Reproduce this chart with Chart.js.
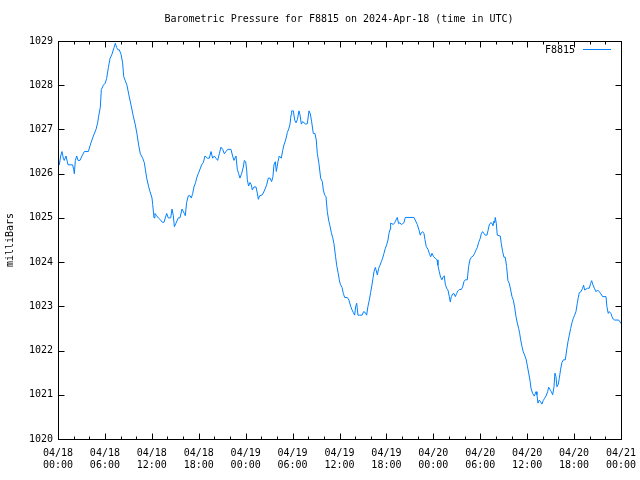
<!DOCTYPE html>
<html>
<head>
<meta charset="utf-8">
<script src="https://cdn.jsdelivr.net/npm/chart.js@4"></script>
<style>
  html, body { margin: 0; padding: 0; background: #fff; }
  #wrap { width: 640px; height: 480px; }
</style>
</head>
<body>
<div id="wrap"><canvas id="chart" width="640" height="480"></canvas></div>
<script>
'use strict';

/* ── DATA ─────────────────────────── */
const chartTitle = 'Barometric Pressure for F8815 on 2024-Apr-18 (time in UTC)';
const seriesName = 'F8815';

// hours since 04/18 00:00 UTC
const hours = [
  0.08, 0.17, 0.34, 0.51, 0.68, 0.8, 1.02, 1.28, 1.87, 2.0, 2.09, 2.22, 2.39, 2.56, 2.81, 3.07,
  3.37, 3.88, 4.22, 4.52, 4.86, 5.07, 5.2, 5.41, 5.54, 5.8, 6.05, 6.22, 6.44, 6.65, 6.9, 7.16,
  7.33, 7.5, 7.67, 7.84, 8.06, 8.27, 8.4, 8.61, 8.82, 9.04, 9.34, 9.63, 9.89, 10.1, 10.31, 10.53,
  10.83, 11.04, 11.17, 11.34, 11.6, 11.76, 12.02, 12.11, 12.28, 12.4, 12.62, 12.83, 13.13, 13.34, 13.55, 13.72,
  13.9, 14.1, 14.41, 14.58, 14.75, 14.88, 15.09, 15.39, 15.6, 15.86, 16.15, 16.28, 16.45, 16.67, 16.88, 17.05,
  17.22, 17.39, 17.6, 17.73, 17.94, 18.16, 18.37, 18.58, 18.8, 19.1, 19.35, 19.57, 19.78, 19.99, 20.2, 20.42,
  20.63, 20.84, 21.06, 21.27, 21.48, 21.7, 22.12, 22.33, 22.5, 22.76, 22.93, 23.1, 23.27, 23.48, 23.7, 23.83,
  24.0, 24.13, 24.21, 24.38, 24.55, 24.72, 24.85, 25.06, 25.32, 25.49, 25.62, 25.79, 26.13, 26.43, 26.69, 26.9,
  27.11, 27.32, 27.49, 27.62, 27.79, 27.92, 28.13, 28.3, 28.56, 28.73, 28.9, 29.11, 29.33, 29.54, 29.67, 29.8,
  29.88, 30.1, 30.27, 30.44, 30.61, 30.82, 30.95, 31.12, 31.29, 31.46, 31.67, 31.88, 32.1, 32.27, 32.44, 32.65,
  32.86, 33.03, 33.16, 33.37, 33.59, 33.8, 33.93, 34.1, 34.27, 34.44, 34.61, 34.78, 34.95, 35.12, 35.29, 35.5,
  35.64, 35.81, 35.98, 36.1, 36.32, 36.49, 36.66, 37.0, 37.21, 37.43, 37.6, 37.77, 37.94, 38.06, 38.2, 38.36,
  38.58, 38.88, 39.09, 39.3, 39.47, 39.64, 39.81, 39.98, 40.15, 40.28, 40.41, 40.58, 40.71, 40.84, 41.01, 41.18,
  41.35, 41.52, 41.69, 41.86, 42.03, 42.2, 42.33, 42.46, 42.54, 42.71, 42.88, 43.05, 43.22, 43.39, 43.56, 43.73,
  43.9, 44.08, 44.24, 44.41, 45.52, 45.74, 45.95, 46.16, 46.33, 46.46, 46.63, 46.8, 46.93, 47.1, 47.31, 47.48,
  47.66, 47.83, 48.04, 48.25, 48.47, 48.59, 48.76, 48.93, 49.1, 49.27, 49.4, 49.53, 49.7, 49.87, 50.04, 50.17,
  50.3, 50.47, 50.64, 50.81, 50.98, 51.15, 51.32, 51.57, 51.75, 51.92, 52.08, 52.34, 52.51, 52.68, 52.85, 53.11,
  53.28, 53.45, 53.62, 53.79, 54.0, 54.13, 54.3, 54.47, 54.64, 54.86, 54.99, 55.15, 55.33, 55.5, 55.63, 55.75,
  55.84, 55.92, 56.05, 56.18, 56.56, 56.69, 56.86, 57.03, 57.2, 57.37, 57.54, 57.71, 57.89, 58.06, 58.23, 58.4,
  58.57, 58.74, 58.91, 59.04, 59.17, 59.34, 59.5, 59.67, 59.85, 60.01, 60.19, 60.36, 60.49, 60.7, 60.91, 61.13,
  61.25, 61.38, 61.55, 61.72, 61.89, 62.06, 62.23, 62.4, 62.62, 62.75, 62.92, 63.09, 63.26, 63.43, 63.55, 63.68,
  63.81, 63.98, 64.11, 64.28, 64.45, 64.62, 64.88, 65.05, 65.22, 65.39, 65.56, 65.73, 65.9, 66.07, 66.24, 66.41,
  66.54, 66.67, 66.88, 67.09, 67.22, 67.35, 67.52, 67.73, 67.95, 68.12, 68.25, 68.38, 68.59, 68.8, 69.01, 69.23,
  69.44, 69.65, 70.08, 70.2, 70.37, 70.5, 70.71, 70.84, 71.01, 71.19, 71.7, 71.87, 72.0,
];

// milliBars
const pressure = [
  1026.3, 1026.2, 1026.4, 1026.5, 1026.35, 1026.3, 1026.4, 1026.2, 1026.2, 1026.1, 1026.0, 1026.3, 1026.4, 1026.3, 1026.3, 1026.4,
  1026.5, 1026.5, 1026.7, 1026.85, 1027.0, 1027.15, 1027.3, 1027.5, 1027.9, 1028.0, 1028.05, 1028.15, 1028.4, 1028.6, 1028.7, 1028.85,
  1028.95, 1028.85, 1028.8, 1028.8, 1028.7, 1028.5, 1028.2, 1028.1, 1028.0, 1027.8, 1027.55, 1027.3, 1027.1, 1026.9, 1026.65, 1026.45,
  1026.35, 1026.25, 1026.1, 1025.9, 1025.7, 1025.6, 1025.45, 1025.3, 1025.0, 1025.1, 1025.05, 1025.0, 1024.95, 1024.9, 1024.9, 1025.0,
  1025.1, 1025.0, 1025.0, 1025.2, 1025.05, 1024.8, 1024.88, 1025.0, 1025.0, 1025.2, 1025.1, 1025.05, 1025.35, 1025.5, 1025.5, 1025.45,
  1025.55, 1025.7, 1025.8, 1025.9, 1026.0, 1026.1, 1026.2, 1026.25, 1026.4, 1026.35, 1026.35, 1026.5, 1026.35, 1026.4, 1026.35, 1026.3,
  1026.45, 1026.6, 1026.55, 1026.45, 1026.5, 1026.55, 1026.55, 1026.4, 1026.3, 1026.4, 1026.1, 1026.0, 1025.9, 1026.0, 1026.15, 1026.3,
  1026.27, 1026.08, 1025.86, 1025.72, 1025.8, 1025.75, 1025.63, 1025.7, 1025.7, 1025.56, 1025.42, 1025.5, 1025.52, 1025.63, 1025.75, 1025.9,
  1025.9, 1025.82, 1025.94, 1026.2, 1026.27, 1026.05, 1026.27, 1026.4, 1026.35, 1026.52, 1026.65, 1026.76, 1026.93, 1027.03, 1027.12, 1027.33,
  1027.42, 1027.42, 1027.21, 1027.15, 1027.22, 1027.42, 1027.33, 1027.12, 1027.18, 1027.15, 1027.12, 1027.13, 1027.42, 1027.35, 1027.17, 1026.91,
  1026.91, 1026.76, 1026.46, 1026.23, 1025.9, 1025.82, 1025.63, 1025.52, 1025.48, 1025.14, 1024.95, 1024.82, 1024.67, 1024.56, 1024.42, 1024.12,
  1023.93, 1023.77, 1023.6, 1023.5, 1023.43, 1023.29, 1023.2, 1023.2, 1023.14, 1023.0, 1022.92, 1022.86, 1022.8, 1022.99, 1023.07, 1022.8,
  1022.8, 1022.8, 1022.88, 1022.86, 1022.8, 1023.0, 1023.14, 1023.31, 1023.48, 1023.63, 1023.78, 1023.88, 1023.8, 1023.71, 1023.86, 1023.93,
  1024.01, 1024.09, 1024.2, 1024.31, 1024.39, 1024.5, 1024.65, 1024.74, 1024.88, 1024.87, 1024.85, 1024.89, 1024.95, 1025.01, 1024.87, 1024.89,
  1024.85, 1024.87, 1024.89, 1025.01, 1025.01, 1024.93, 1024.85, 1024.73, 1024.61, 1024.66, 1024.69, 1024.65, 1024.51, 1024.35, 1024.29, 1024.2,
  1024.12, 1024.2, 1024.12, 1024.09, 1024.05, 1023.93, 1023.78, 1023.66, 1023.6, 1023.67, 1023.69, 1023.5, 1023.41, 1023.37, 1023.22, 1023.1,
  1023.22, 1023.28, 1023.29, 1023.22, 1023.29, 1023.35, 1023.38, 1023.38, 1023.44, 1023.56, 1023.6, 1023.6, 1023.9, 1024.05, 1024.11, 1024.14,
  1024.2, 1024.27, 1024.33, 1024.44, 1024.54, 1024.64, 1024.69, 1024.65, 1024.61, 1024.61, 1024.71, 1024.84, 1024.89, 1024.88, 1024.82, 1024.93,
  1024.89, 1025.01, 1024.88, 1024.61, 1024.59, 1024.42, 1024.24, 1024.11, 1024.11, 1023.9, 1023.58, 1023.52, 1023.37, 1023.22, 1023.14, 1022.98,
  1022.77, 1022.62, 1022.5, 1022.39, 1022.24, 1022.09, 1021.97, 1021.9, 1021.81, 1021.67, 1021.49, 1021.33, 1021.15, 1021.03, 1020.97, 1021.07,
  1021.0, 1020.81, 1020.88, 1020.84, 1020.79, 1020.87, 1020.92, 1020.97, 1021.07, 1021.17, 1021.12, 1021.07, 1021.0, 1021.18, 1021.49, 1021.41,
  1021.18, 1021.24, 1021.37, 1021.58, 1021.73, 1021.79, 1021.79, 1022.01, 1022.2, 1022.35, 1022.5, 1022.63, 1022.73, 1022.8, 1022.88, 1023.07,
  1023.2, 1023.31, 1023.33, 1023.41, 1023.48, 1023.37, 1023.39, 1023.41, 1023.41, 1023.52, 1023.58, 1023.5, 1023.41, 1023.33, 1023.37, 1023.33,
  1023.28, 1023.22, 1023.22, 1022.99, 1022.84, 1022.88, 1022.84, 1022.77, 1022.71, 1022.69, 1022.69, 1022.65, 1022.61,
];

// x axis ticks every 6 hours
const tickDates = ['04/18', '04/18', '04/18', '04/18', '04/19', '04/19', '04/19', '04/19', '04/20', '04/20', '04/20', '04/20', '04/21'];
const tickTimes = ['00:00', '06:00', '12:00', '18:00', '00:00', '06:00', '12:00', '18:00', '00:00', '06:00', '12:00', '18:00', '00:00'];
const yMin = 1020;
const yMax = 1029;

/* ── STYLE ─────────────────────────── */
const mono = 'DejaVu Sans Mono';
const lineColor = '#0080ff';

// gnuplot-ish frame: box, inward ticks on all sides, title, key
const gnuFrame = {
  id: 'gnuFrame',
  afterDraw(chart) {
    const { ctx, chartArea: a, scales: { x, y } } = chart;
    const L = Math.round(a.left) + 0.5, R = Math.round(a.right) + 0.5;
    const T = Math.round(a.top) + 0.5, B = Math.round(a.bottom) + 0.5;
    ctx.save();
    ctx.strokeStyle = '#000';
    ctx.lineWidth = 1;
    ctx.strokeRect(L, T, R - L, B - T);

    ctx.beginPath();
    for (let h = 0; h <= 72; h += 2) {
      const px = Math.round(x.getPixelForValue(h)) + 0.5;
      const len = h % 6 === 0 ? 6 : 3;
      ctx.moveTo(px, B); ctx.lineTo(px, B - len);
      ctx.moveTo(px, T); ctx.lineTo(px, T + len);
    }
    for (let v = yMin; v <= yMax; v++) {
      const py = Math.round(y.getPixelForValue(v)) + 0.5;
      ctx.moveTo(L, py); ctx.lineTo(L + 6, py);
      ctx.moveTo(R, py); ctx.lineTo(R - 6, py);
    }
    ctx.stroke();

    ctx.fillStyle = '#000';
    ctx.font = `10px "${mono}"`;
    ctx.textBaseline = 'middle';
    ctx.textAlign = 'center';
    ctx.fillText(chartTitle, 339, 19);

    ctx.textAlign = 'right';
    ctx.fillText(seriesName, 575, 50);
    ctx.strokeStyle = lineColor;
    ctx.beginPath();
    ctx.moveTo(583, 49.5); ctx.lineTo(611, 49.5);
    ctx.stroke();
    ctx.restore();
  },
};

/* ── CHART ─────────────────────────── */
new Chart(document.getElementById('chart'), {
  type: 'line',
  data: {
    datasets: [{
      label: seriesName,
      data: hours.map((h, i) => ({ x: h, y: pressure[i] })),
      borderColor: lineColor,
      borderWidth: 1,
      pointRadius: 0,
      tension: 0,
      fill: false,
    }],
  },
  options: {
    responsive: false,
    animation: false,
    devicePixelRatio: 1,
    layout: { padding: { top: 41, right: 19, left: 0, bottom: 0 } },
    plugins: {
      legend: { display: false },
      tooltip: { enabled: false },
      title: { display: false },
    },
    scales: {
      x: {
        type: 'linear',
        min: 0,
        max: 72,
        grid: { display: false, drawTicks: false },
        border: { display: false },
        ticks: {
          stepSize: 6,
          autoSkip: false,
          maxRotation: 0,
          padding: 8,
          color: '#000',
          font: { family: mono, size: 10 },
          callback: (v, i) => [tickDates[i], tickTimes[i]],
        },
        afterFit: s => { s.height = 41; s.paddingLeft = 0; s.paddingRight = 0; },
      },
      y: {
        min: yMin,
        max: yMax,
        grid: { display: false, drawTicks: false },
        border: { display: false },
        ticks: {
          stepSize: 1,
          padding: 5,
          color: '#000',
          font: { family: mono, size: 10 },
          callback: v => v,
        },
        title: {
          display: true,
          text: 'milliBars',
          color: '#000',
          font: { family: mono, size: 10 },
          padding: { top: 4, bottom: 0 },
        },
        afterFit: s => { s.width = 58; s.paddingTop = 0; s.paddingBottom = 0; },
      },
    },
  },
  plugins: [gnuFrame],
});
</script>
</body>
</html>
